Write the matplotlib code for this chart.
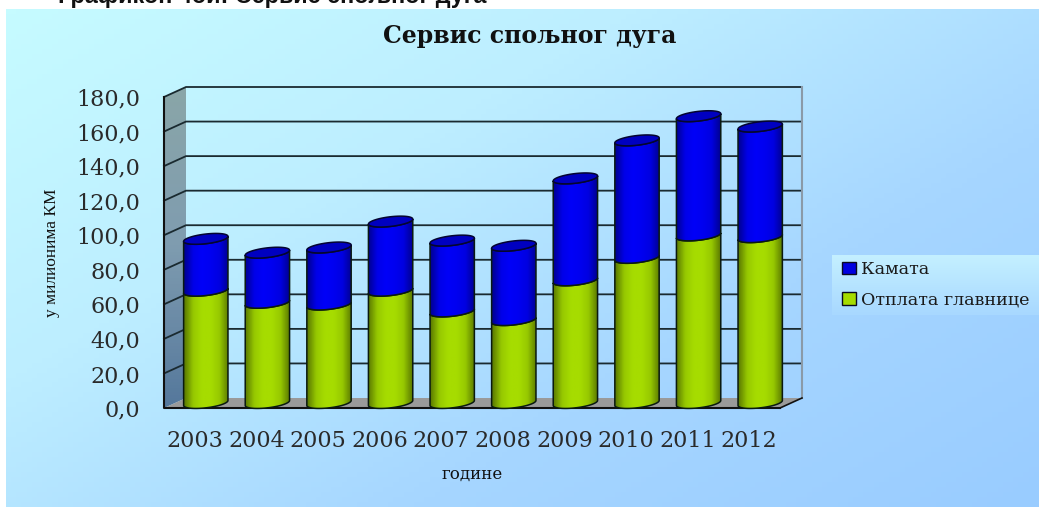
# stacked cylinder chart of external debt service
import numpy as np
import matplotlib
matplotlib.use('Agg')
import matplotlib.pyplot as plt
from matplotlib.colors import LinearSegmentedColormap
from matplotlib.patches import Polygon, Patch
from matplotlib.ticker import FuncFormatter
from matplotlib.transforms import Affine2D, IdentityTransform

years = ['2003', '2004', '2005', '2006', '2007', '2008', '2009', '2010', '2011', '2012']
otplata = [65, 58, 57, 65, 53, 48, 71, 84, 97, 96]
kamata = [30, 29, 33, 40, 41, 43, 59, 68, 69, 64]
y_ticks = [0, 20, 40, 60, 80, 100, 120, 140, 160, 180]

W, H = 1039, 508
fig = plt.figure(figsize=(W / 100, H / 100), dpi=100, facecolor='white')
px = IdentityTransform()


def gradient_cmap(*cols):
    return LinearSegmentedColormap.from_list('g', list(cols))


# background panel, in pixel coordinates
bg = fig.add_axes([0, 0, 1, 1], zorder=0)
bg.set_xlim(0, W)
bg.set_ylim(H, 0)
bg.axis('off')
xx, yy = np.meshgrid(np.linspace(0, 1, 200), np.linspace(0, 1, 100))
bg.imshow(0.55 * xx + 0.45 * yy, extent=[6, W, 507, 9], aspect='auto', zorder=1,
          cmap=gradient_cmap('#c6fbff', '#bdeeff', '#a6d6ff', '#99ccff'))
bg.imshow(np.linspace(0, 1, 100).reshape(-1, 1), extent=[832, W, 315, 255], aspect='auto', zorder=2,
          cmap=gradient_cmap('#c4f0ff', '#a8d8ff'))
bg.set_xlim(0, W)
bg.set_ylim(H, 0)
bg.text(58, 3, 'Графикон 4ой: Сервис спољног дуга', fontsize=16.8, fontweight='bold',
        family='Liberation Sans', color='#111111', va='baseline', ha='left', zorder=3)

# the axes is the front plane of the 3D box
ax = fig.add_axes([164 / W, (H - 408) / H, 616 / W, 311 / H], zorder=2)
ax.patch.set_alpha(0)
ax.set_xlim(-0.5, 9.5)
ax.set_ylim(0, 180)
ax.set_autoscale_on(False)
for s in ax.spines.values():
    s.set_visible(False)

mid = ax.transData + Affine2D().translate(11, 5)
back = ax.transData + Affine2D().translate(22, 10)

# walls
p_side = np.vstack([ax.transData.transform([(-0.5, 0), (-0.5, 180)]),
                    back.transform([(-0.5, 180), (-0.5, 0)])])
side = Polygon(p_side, closed=True, transform=px, facecolor='none', edgecolor='none')
ax.add_patch(side)
im = ax.imshow(np.linspace(0, 1, 100).reshape(-1, 1), extent=[-0.5, -0.1, 0, 188], aspect='auto',
               cmap=gradient_cmap('#8aa6a8', '#7f9cb0', '#55789c'), zorder=1)
im.set_clip_box(fig.bbox)
im.set_clip_path(side)

p_floor = np.vstack([ax.transData.transform([(-0.5, 0), (9.5, 0)]),
                     back.transform([(9.5, 0), (-0.5, 0)])])
ax.add_patch(Polygon(p_floor, closed=True, transform=px, facecolor='#9a9a9a', edgecolor='none',
                     zorder=2, clip_on=False))

for v in y_ticks[1:]:
    a = ax.transData.transform((-0.5, v))
    b = back.transform((-0.5, v))
    c = back.transform((9.5, v))
    ax.plot([a[0], b[0], c[0]], [a[1], b[1], c[1]], transform=px, color='#1a2a30', lw=1.3,
            zorder=3, clip_on=False)

ax.plot([-0.5, -0.5, 9.5], [180, 0, 0], color='#111111', lw=1.5, zorder=4, clip_on=False)
ax.plot([9.5, 9.5], [0, 180], transform=back, color='#8a9aa8', lw=1.5, zorder=3, clip_on=False)
d = ax.transData.transform((9.5, 0))
e = back.transform((9.5, 0))
ax.plot([d[0], e[0]], [d[1], e[1]], transform=px, color='#111111', lw=1.2, zorder=4, clip_on=False)

# cylinders
bar_w = 0.72
half_h = 2.8
tilt = 4.0
t_low = np.linspace(np.pi, 2 * np.pi, 40)
t_all = np.linspace(0, 2 * np.pi, 80)


def arc(xc, v, t):
    dx = bar_w / 2 * np.cos(t)
    return np.column_stack([xc + dx, v + tilt * dx + half_h * np.sin(t)])


def cylinder(xc, v0, v1, cmap, top_col, z):
    body = np.vstack([arc(xc, v0, t_low), arc(xc, v1, t_low[::-1])])
    patch = Polygon(body, closed=True, transform=mid, facecolor='none', edgecolor='#0a1a10', lw=1.1,
                    zorder=z + 0.2, clip_on=False)
    ax.add_patch(patch)
    g = ax.imshow(np.linspace(0, 1, 64).reshape(1, -1), cmap=cmap, aspect='auto', zorder=z,
                  extent=[xc - bar_w / 2, xc + bar_w / 2, v0 - 8, v1 + 8], transform=mid)
    g.set_clip_box(fig.bbox)
    g.set_clip_path(patch)
    if top_col:
        ax.add_patch(Polygon(arc(xc, v1, t_all), closed=True, transform=mid, facecolor=top_col,
                             edgecolor='#050530', lw=1.1, zorder=z + 0.3, clip_on=False))


green = gradient_cmap('#5a7800', '#96c800', '#a6dc00', '#a6dc00', '#96c800', '#5a7800')
blue = gradient_cmap('#000090', '#0000e8', '#0000f8', '#0000f0', '#0000e0', '#000090')

for i in range(len(years)):
    z = 5 + i
    cylinder(i, 0, otplata[i], green, None, z)
    cylinder(i, otplata[i], otplata[i] + kamata[i], blue, '#0000c0', z + 0.5)

ax.set_xlim(-0.5, 9.5)
ax.set_ylim(0, 180)

# axes text
ax.set_xticks(range(len(years)))
ax.set_xticklabels(years)
ax.set_yticks(y_ticks)
ax.yaxis.set_major_formatter(FuncFormatter(lambda v, p: f'{v:.1f}'.replace('.', ',')))
ax.tick_params(axis='both', length=0, labelsize=16, labelcolor='#2a2a2a')
ax.tick_params(axis='x', pad=16)
ax.tick_params(axis='y', pad=17)
for lab in ax.get_xticklabels() + ax.get_yticklabels():
    lab.set_family('DejaVu Serif')

ax.set_ylabel('у милионима КМ', fontsize=12.5, family='Liberation Serif', color='#111111')
ax.yaxis.set_label_coords((60 - 164) / 616, (408 - 253) / 311)
ax.set_xlabel('године', fontsize=12, family='DejaVu Serif', color='#111111')
ax.xaxis.set_label_coords((472 - 164) / 616, (408 - 466) / 311)

fig.text(530 / W, 1 - 36 / H, 'Сервис спољног дуга', fontsize=17, fontweight='bold',
         family='DejaVu Serif', ha='center', va='center', color='#111111')

handles = [Patch(facecolor='#0000e0', edgecolor='#0a0a20', label='Камата'),
           Patch(facecolor='#a6dc00', edgecolor='#0a0a20', label='Отплата главнице')]
leg = fig.legend(handles=handles, loc='center left', bbox_to_anchor=(842 / W, 1 - 285 / H), frameon=False,
                 prop={'family': 'DejaVu Serif', 'size': 12.6}, handlelength=0.8, handleheight=0.7,
                 handletextpad=0.3, labelspacing=0.75, borderpad=0, borderaxespad=0)
for t in leg.get_texts():
    t.set_color('#1a1a1a')

fig.savefig('out.png', dpi=100)
